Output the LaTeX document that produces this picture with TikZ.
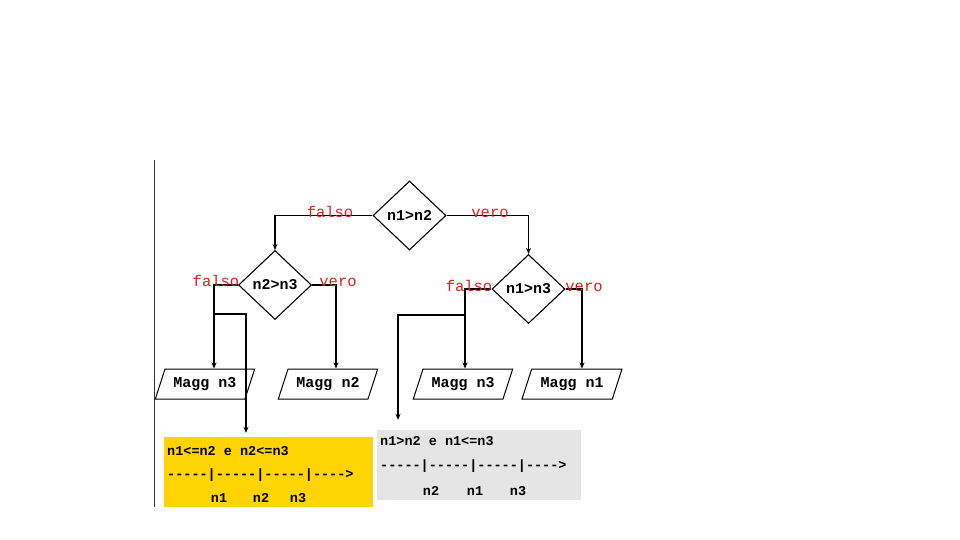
\documentclass[tikz,border=0pt]{standalone}
\usepackage{fontspec}
\setmonofont{Liberation Mono}
\usetikzlibrary{shapes.geometric,arrows.meta}
\definecolor{lblred}{RGB}{225,30,30}
\definecolor{boxyellow}{RGB}{255,212,0}
\definecolor{boxgray}{RGB}{229,229,229}
\tikzset{
  dec/.style={diamond,draw,line width=1.1pt,inner sep=0pt,minimum width=73pt,minimum height=69pt,
    font=\ttfamily\bfseries\fontsize{15}{17}\selectfont},
  io/.style={trapezium,trapezium left angle=60,trapezium right angle=120,trapezium stretches=true,
    draw,line width=1pt,inner sep=0pt,minimum width=100pt,minimum height=30pt,
    font=\ttfamily\bfseries\fontsize{15}{17}\selectfont},
  lbl/.style={text=lblred,font=\ttfamily\fontsize{15.5}{17}\selectfont,inner sep=0pt,anchor=base},
  arr/.style={line width=1.4pt,-{Stealth[length=6pt,width=5pt]}},
  boxtxt/.style={font=\ttfamily\bfseries\fontsize{13.5}{15}\selectfont,inner sep=0pt,anchor=west},
  numtxt/.style={font=\ttfamily\bfseries\fontsize{13.5}{15}\selectfont,inner sep=0pt}
}
\begin{document}
\begin{tikzpicture}[x=1pt,y=-1pt]
\useasboundingbox[fill=white] (0,0) rectangle (960,540);
\coordinate (vt) at (154,160);
\coordinate (vb) at (154,507);
\draw[gray!40!black,line width=0.7pt] (vt) -- (vb);

% decisions
\node[dec] (d1) at (409.5,215.5) {n1>n2};
\node[dec] (d2) at (275,285) {n2>n3};
\node[dec] (d3) at (528.5,289) {n1>n3};

% outputs
\node[io] (p1) at (205,384) {Magg n3};
\node[io] (p2) at (328,384) {Magg n2};
\node[io] (p3) at (463,384) {Magg n3};
\node[io] (p4) at (572,384) {Magg n1};

% boxes
\node[fill=boxyellow,minimum width=209pt,minimum height=70pt,inner sep=0pt] (yb) at (268.5,472) {};
\node[fill=boxgray,minimum width=204pt,minimum height=70pt,inner sep=0pt] (gb) at (479,465) {};

\node[boxtxt] (y1) at (167,451) {n1<=n2 e n2<=n3};
\node[boxtxt] (y2) at (167,475) {-----|-----|-----|---->};
\node[numtxt] (yn1) at (219,498) {n1};
\node[numtxt] (yn2) at (261,498) {n2};
\node[numtxt] (yn3) at (298,498) {n3};

\node[boxtxt] (g1) at (380,441) {n1>n2 e n1<=n3};
\node[boxtxt] (g2) at (380,466) {-----|-----|-----|---->};
\node[numtxt] (gn1) at (431,491) {n2};
\node[numtxt] (gn2) at (475,491) {n1};
\node[numtxt] (gn3) at (518,491) {n3};

% connectors
\draw[arr] (d1.west) -| (d2.north);
\draw[arr] (d1.east) -| (d3.north);
\draw[arr] (d2.west) -| ([xshift=9pt]p1.north);
\draw[arr] (d2.east) -| ([xshift=8pt]p2.north);
\draw[arr] (d3.west) -| ([xshift=2pt]p3.north);
\draw[arr] (d3.east) -| ([xshift=10pt]p4.north);

\coordinate (j1) at (214,314);
\coordinate (j2) at (465,315);
\draw[arr,shorten >=4pt] (j1) -| ([xshift=-22.5pt]yb.north);
\draw[arr,shorten >=10pt] (j2) -| ([xshift=-81pt]gb.north);

% labels
\node[lbl] (l1) at (330,217) {falso};
\node[lbl] (l2) at (490,217) {vero};
\node[lbl] (l3) at (216,286) {falso};
\node[lbl] (l4) at (338,286) {vero};
\node[lbl] (l5) at (469,291) {falso};
\node[lbl] (l6) at (584,291) {vero};
\end{tikzpicture}
\end{document}
